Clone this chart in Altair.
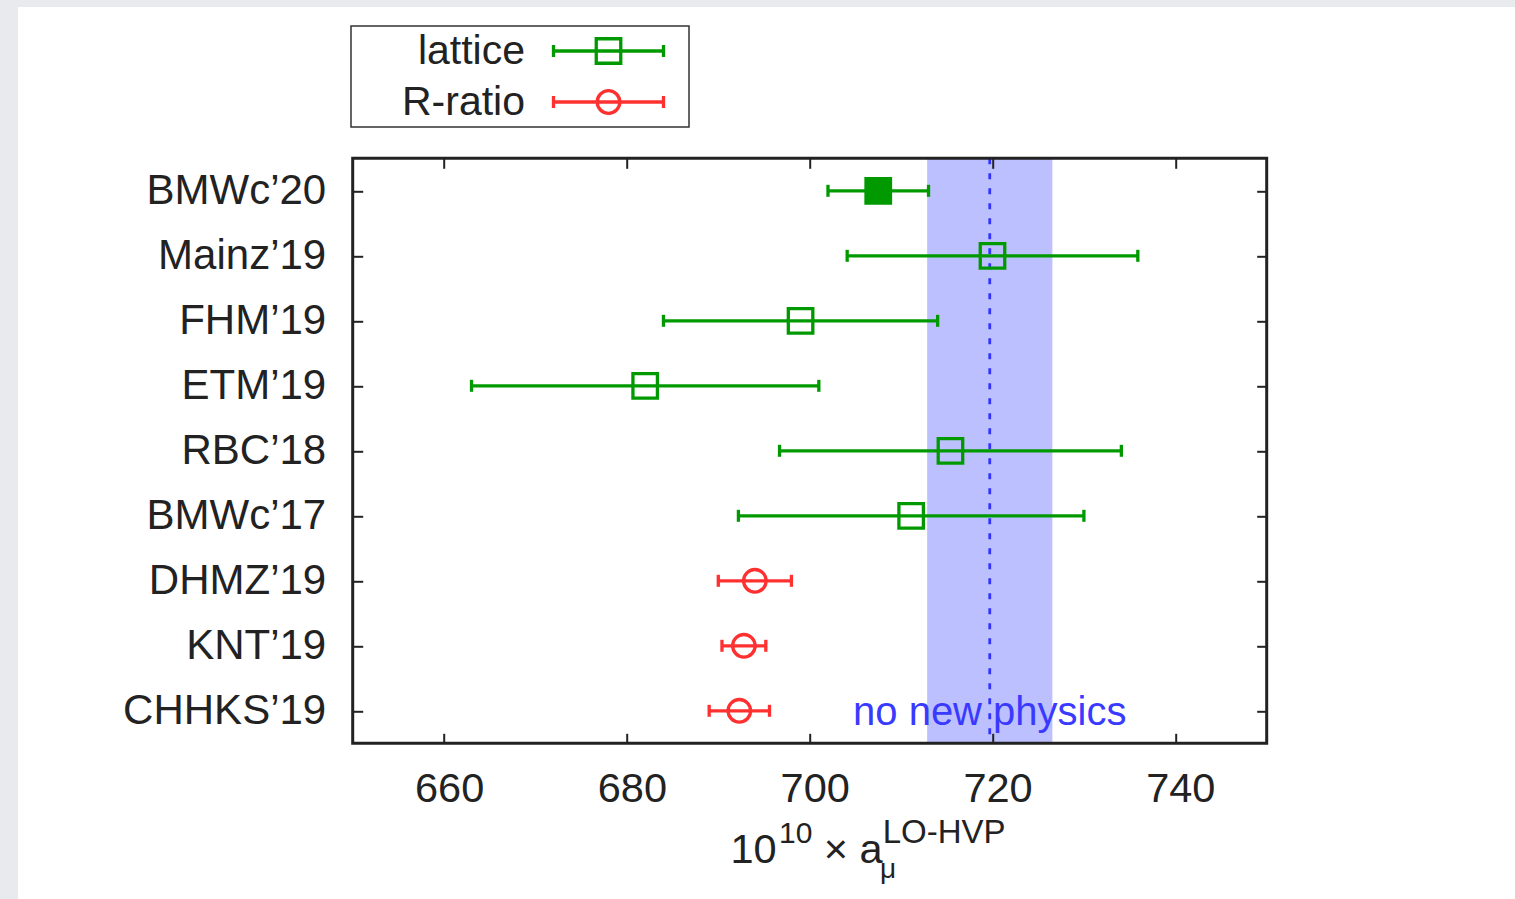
import altair as alt
import pandas as pd

# ---------------- data ----------------
names = ["BMWc’20", "Mainz’19", "FHM’19", "ETM’19", "RBC’18",
         "BMWc’17", "DHMZ’19", "KNT’19", "CHHKS’19"]
values = [707.5, 720.0, 699.0, 682.0, 715.4, 711.1, 694.0, 692.8, 692.3]
errors = [5.5, 15.9, 15.0, 19.0, 18.7, 18.9, 4.0, 2.4, 3.3]
series = ["lattice"] * 6 + ["R-ratio"] * 3
filled = [True] + [False] * 8

series_names = ["lattice", "R-ratio"]
series_colors = ["#009a00", "#ff3030"]
series_shapes = ["square", "circle"]

nnp_value = 719.7
nnp_error = 6.85
nnp_label = "no new physics"

x_ticks = [660, 680, 700, 720, 740]
x_domain = [650, 750]

# ---------------- layout / style ----------------
FONT = "Liberation Sans"
INK = "#222222"
W, H = 914, 585
LEFT, TOP = 352.7, 158.3
LW = 3.3
MARK_SIZES = [600, 510]

df = pd.DataFrame(dict(name=names, value=values, err=errors,
                       series=series, filled=filled))

xs = alt.Scale(domain=x_domain, nice=False, zero=False)
ys = alt.Scale(type="point", domain=names, padding=0.5)
cs = alt.Scale(domain=series_names, range=series_colors)
ss = alt.Scale(domain=series_names, range=series_shapes)
sz = alt.Scale(domain=series_names, range=MARK_SIZES)

ax_bottom = alt.Axis(orient="bottom", values=x_ticks, offset=-10, tickSize=10,
                     tickWidth=2, tickColor=INK, domain=False, grid=False,
                     labelFontSize=41.5, labelFont=FONT, labelColor=INK,
                     labelPadding=25, labelOffset=5, title=None, zindex=1)
ax_top = alt.Axis(orient="top", values=x_ticks, offset=-10, tickSize=10,
                  tickWidth=2, tickColor=INK, domain=False, grid=False,
                  labels=False, title=None, zindex=1)
ax_left = alt.Axis(orient="left", offset=-10, tickSize=10, tickWidth=2,
                   tickColor=INK, domain=False, grid=False, labelFontSize=42,
                   labelFont=FONT, labelColor=INK, labelPadding=27,
                   labelLimit=400, labelOverlap=False, title=None, zindex=1)
ax_right = alt.Axis(orient="right", offset=-10, tickSize=10, tickWidth=2,
                    tickColor=INK, domain=False, grid=False, labels=False,
                    title=None, zindex=1)

one = pd.DataFrame({"a": [0]})

# page background (white sheet over grey screenshot border)
sheet = alt.Chart(one).mark_rect(fill="white").encode(
    x=alt.value(18 - LEFT), x2=alt.value(1515 - LEFT),
    y=alt.value(7 - TOP), y2=alt.value(899 - TOP))

band = alt.Chart(pd.DataFrame({"lo": [nnp_value - nnp_error],
                               "hi": [nnp_value + nnp_error]})).mark_rect(
    color="#bdc0fe").encode(x=alt.X("lo:Q", scale=xs, axis=None), x2="hi:Q")

dashed = alt.Chart(pd.DataFrame({"v": [nnp_value]})).mark_rule(
    strokeDash=[6, 9], strokeWidth=2.8, color="#3333ff").encode(
    x=alt.X("v:Q", scale=xs, axis=None))

base = alt.Chart(df).transform_calculate(
    lo="datum.value - datum.err", hi="datum.value + datum.err")

errbars = base.mark_rule(strokeWidth=LW).encode(
    x=alt.X("lo:Q", scale=xs, axis=ax_bottom), x2="hi:Q",
    y=alt.Y("name:N", scale=ys, axis=ax_left),
    color=alt.Color("series:N", scale=cs, legend=None))

caps = base.transform_fold(["lo", "hi"], as_=["end", "pos"]).mark_tick(
    thickness=LW, size=12, opacity=1).encode(
    x=alt.X("pos:Q", scale=xs, axis=None),
    y=alt.Y("name:N", scale=ys, axis=None),
    color=alt.Color("series:N", scale=cs, legend=None))

points = base.mark_point(strokeWidth=LW, filled=False, opacity=1).encode(
    x=alt.X("value:Q", scale=xs, axis=ax_top),
    y=alt.Y("name:N", scale=ys, axis=ax_right),
    color=alt.Color("series:N", scale=cs, legend=None),
    shape=alt.Shape("series:N", scale=ss, legend=None),
    size=alt.Size("series:N", scale=sz, legend=None),
    fill=alt.condition("datum.filled",
                       alt.Fill("series:N", scale=cs, legend=None),
                       alt.value("transparent")))

nnp_text = alt.Chart(pd.DataFrame({"label": [nnp_label], "v": [nnp_value],
                                   "name": [names[-1]]})).mark_text(
    fontSize=40, font=FONT, color="#3a3aff", align="center",
    baseline="middle", dy=2).encode(
    x=alt.X("v:Q", scale=xs, axis=None),
    y=alt.Y("name:N", scale=ys, axis=None), text="label:N")

layers = [sheet, band, dashed, errbars, caps, points, nnp_text]

# ---------------- legend (boxed, labels left of samples) ----------------
legend_box = alt.Chart(one).mark_rect(fill="white", stroke="#333333",
                                      strokeWidth=1.5).encode(
    x=alt.value(351 - LEFT), x2=alt.value(689 - LEFT),
    y=alt.value(26 - TOP), y2=alt.value(127 - TOP))
layers.append(legend_box)

row_y = [51 - TOP, 102 - TOP]
for i, nm in enumerate(series_names):
    yc = row_y[i]
    col = series_colors[i]
    d = pd.DataFrame({"t": [nm]})
    layers.append(alt.Chart(d).mark_text(
        align="right", baseline="alphabetic", fontSize=41, font=FONT,
        color=INK).encode(x=alt.value(525 - LEFT), y=alt.value(yc + 13),
                          text="t:N"))
    layers.append(alt.Chart(d).mark_rule(color=col, strokeWidth=LW).encode(
        x=alt.value(552 - LEFT), x2=alt.value(665 - LEFT), y=alt.value(yc)))
    for xe in (553.5, 663.5):
        layers.append(alt.Chart(d).mark_rule(color=col, strokeWidth=LW).encode(
            x=alt.value(xe - LEFT), y=alt.value(yc - 6),
            y2=alt.value(yc + 6)))
    layers.append(alt.Chart(d).mark_point(
        shape=series_shapes[i], size=MARK_SIZES[i], filled=False,
        strokeWidth=LW, color=col, opacity=1).encode(
        x=alt.value(608.5 - LEFT), y=alt.value(yc)))

# ---------------- x-axis title: 10^10 x a_mu^{LO-HVP} ----------------
title_parts = [("10", 41.5, 730.5, 863.3), ("10", 30, 779, 842.5),
               ("× a", 41.5, 823.8, 863.3), ("μ", 28, 880, 878),
               ("LO-HVP", 33, 882.7, 843.3)]
for txt, fs, ax, ay in title_parts:
    layers.append(alt.Chart(pd.DataFrame({"t": [txt]})).mark_text(
        align="left", baseline="alphabetic", fontSize=fs, font=FONT,
        color=INK).encode(x=alt.value(ax - LEFT), y=alt.value(ay - TOP),
                          text="t:N"))

# ---------------- plot frame ----------------
frame = alt.Chart(one).mark_rect(fillOpacity=0, stroke=INK,
                                 strokeWidth=3).encode(
    x=alt.value(0), x2=alt.value(W), y=alt.value(0), y2=alt.value(H))
layers.append(frame)

chart = alt.layer(*layers).resolve_axis(
    x="independent", y="independent").properties(
    width=W, height=H,
    autosize=alt.AutoSizeParams(type="none"),
    padding={"left": LEFT, "top": TOP, "right": 1515 - LEFT - W,
             "bottom": 899 - TOP - H},
    background="#e8eaed").configure_view(strokeWidth=0)

chart.save("out.html", embed_options={"renderer": "svg", "actions": False})
